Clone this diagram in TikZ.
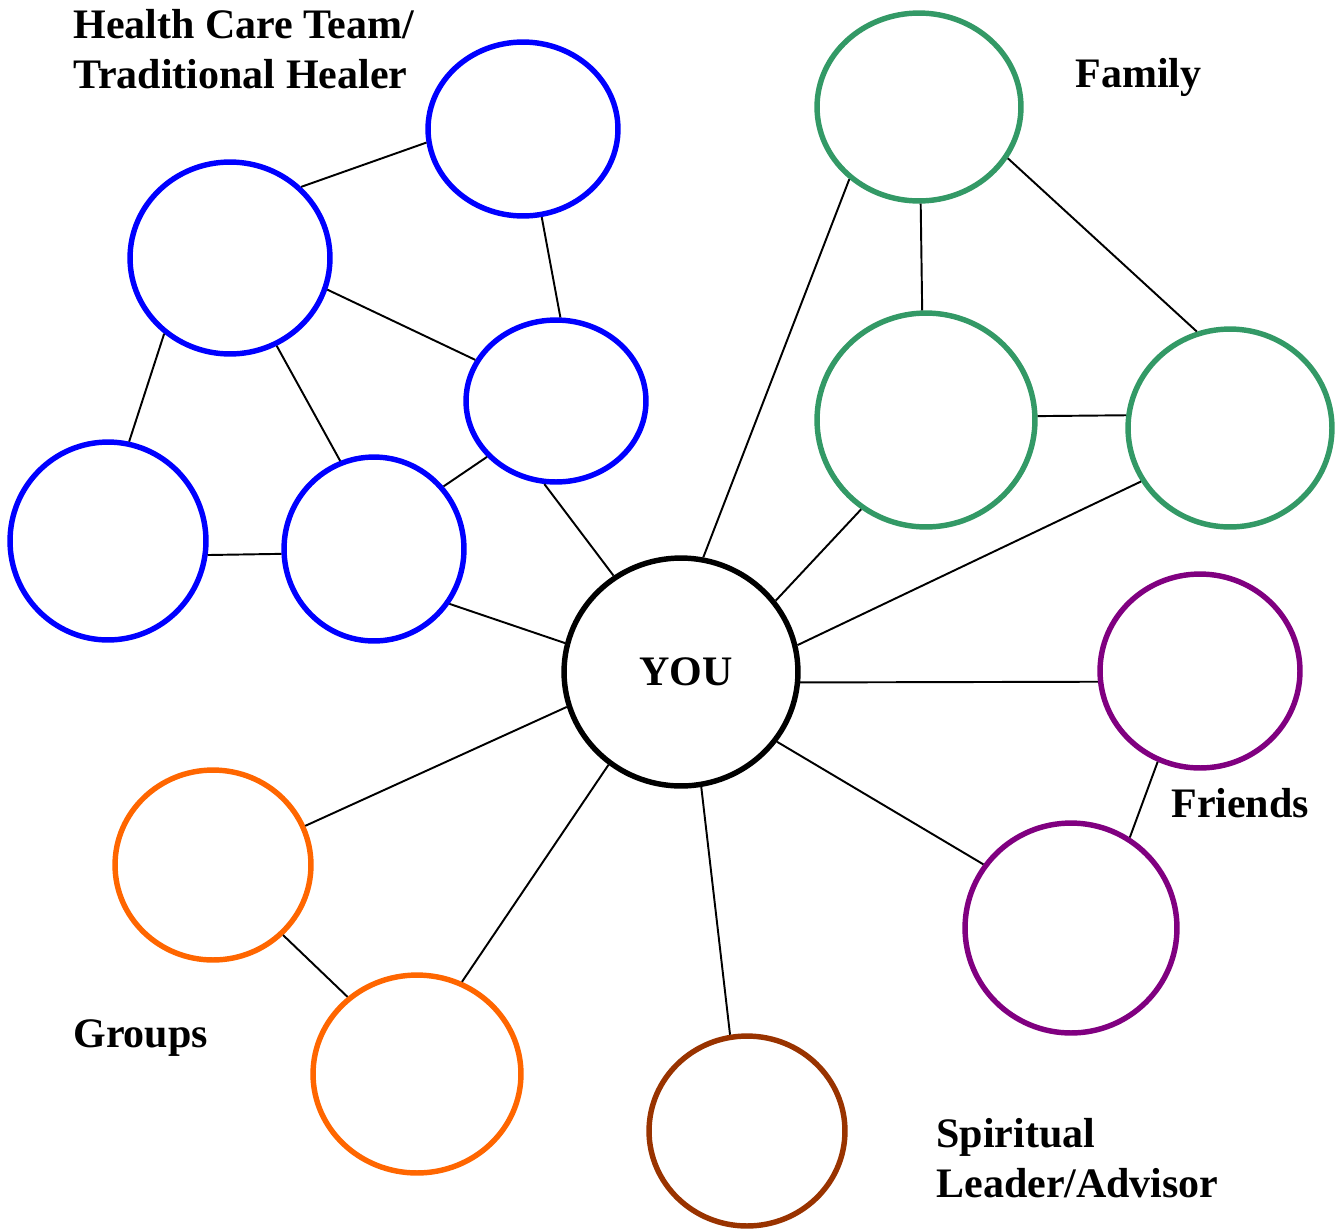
\documentclass[tikz,border=0pt]{standalone}
\usepackage{fontspec}
\setmainfont{Liberation Serif}
\usetikzlibrary{shapes.geometric}
\definecolor{hcblue}{RGB}{0,0,255}
\definecolor{famgreen}{RGB}{51,153,102}
\definecolor{frpurple}{RGB}{128,0,128}
\definecolor{grorange}{RGB}{255,102,0}
\definecolor{spbrown}{RGB}{153,51,0}
\tikzset{
     circ/.style={
           ellipse,
           draw, line width=3.1pt,
           inner sep=0pt,
           },
     dims/.style 2 args={
           minimum width=#1*0.04cm,
           minimum height=#2*0.04cm,
           },
     health/.style={circ, draw=hcblue},
     family/.style={circ, draw=famgreen},
     friend/.style={circ, draw=frpurple},
     group/.style={circ, draw=grorange},
     spirit/.style={circ, draw=spbrown},
     tag/.style={
           font=\bfseries\fontsize{23.9}{28.45}\selectfont,
           align=left,
           inner sep=0pt,
           },
     link/.style={line width=1.1pt},
}
\begin{document}
\begin{tikzpicture}[x=0.02cm, y=-0.02cm]
	\useasboundingbox (0,0) rectangle (1341,1231);
	% centre
	\node[circ, draw=black, dims={117}{114}, tag, align=center, text depth=0pt] (you) at (681,672) {\hspace*{0.2cm}YOU};
	% health care team
	\node[health, dims={95}{87}]  (hc1) at (523,129) {};
	\node[health, dims={100}{96}] (hc2) at (230,258) {};
	\node[health, dims={90}{81}]  (hc3) at (556,401) {};
	\node[health, dims={98}{99}]  (hc4) at (108,541) {};
	\node[health, dims={90}{92}]  (hc5) at (374,549) {};
	% family
	\node[family, dims={102}{94}]  (fam1) at (919,107) {};
	\node[family, dims={109}{107}] (fam2) at (926,420) {};
	\node[family, dims={102}{99}]  (fam3) at (1230,428) {};
	% friends
	\node[friend, dims={100}{97}]  (fr1) at (1200,671) {};
	\node[friend, dims={106}{105}] (fr2) at (1071,928) {};
	% groups
	\node[group, dims={98}{95}]  (grp1) at (213,865) {};
	\node[group, dims={104}{99}] (grp2) at (417,1074) {};
	% spiritual
	\node[spirit, dims={98}{95}] (spir) at (747,1131) {};

	% labels (base = last line)
	\node[tag, anchor=base west] (lhc) at (73,88) {Health Care Team/\\Traditional Healer};
	\node[tag, anchor=base west] (lfam) at (1075,87) {Family};
	\node[tag, anchor=base west] (lfr) at (1171,817) {Friends};
	\node[tag, anchor=base west] (lgrp) at (73,1047) {Groups};
	\node[tag, anchor=base west] (lspir) at (936,1197) {Spiritual\\Leader/Advisor};

	% links
	\draw[link] (hc2.45) -- (hc1.188.4);
	\draw[link] (hc1.282.7) -- (hc3.87.2);
	\draw[link] (hc2.342.3) -- (hc3.153.2);
	\draw[link] (hc2.229.2) -- (hc4.78.1);
	\draw[link] (hc2.298.9) -- (hc5.111.3);
	\draw[link] (hc4.352) -- (hc5.183.8);
	\draw[link] (hc5.42.9) -- (hc3.219.8);
	\draw[link] (hc3.262.5) -- (you.125.7);
	\draw[link] (hc5.324.7) -- (you.166.8);
	\draw[link] (you.79.4) -- (fam1.226.9);
	\draw[link] (fam1.271.2) -- (fam2.92.6);
	\draw[link] (fam1.330.6) -- (fam3.109.7);
	\draw[link] (fam2.2) -- (fam3.173.9);
	\draw[link] (you.37.1) -- (fam2.234.3);
	\draw[link] (you.13.7) -- (fam3.211.9);
	\draw[link] (you.355.4) -- (fr1.186.2);
	\draw[link] (fr1.245.9) -- (fr2.57);
	\draw[link] (you.324.5) -- (fr2.144.4);
	\draw[link] (you.197.7) -- (grp1.23.5);
	\draw[link] (grp1.315.8) -- (grp2.132.3);
	\draw[link] (you.232.8) -- (grp2.64.1);
	\draw[link] (you.280.6) -- (spir.100);
\end{tikzpicture}
\end{document}
